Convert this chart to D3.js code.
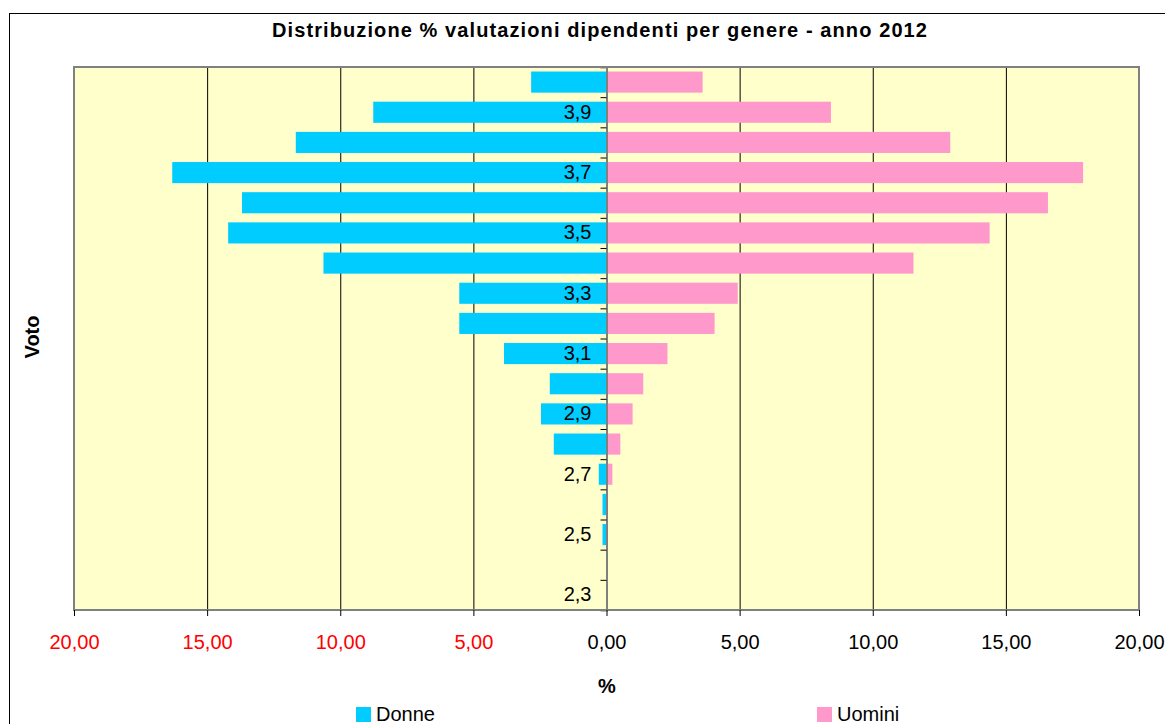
<!DOCTYPE html>
<html>
<head>
<meta charset="utf-8">
<script src="https://cdn.jsdelivr.net/npm/d3@7"></script>
<style>
  body { margin: 0; background: #fff; }
  svg { display: block; font-family: "Liberation Sans", Arial, sans-serif; }
</style>
</head>
<body>
<div id="chart"></div>
<script>
// categorie (voto), dall'alto verso il basso
var voti = [4.0, 3.9, 3.8, 3.7, 3.6, 3.5, 3.4, 3.3, 3.2, 3.1, 3.0, 2.9, 2.8, 2.7, 2.6, 2.5, 2.4, 2.3];
var votiEtichetta = [3.9, 3.7, 3.5, 3.3, 3.1, 2.9, 2.7, 2.5, 2.3];

// % per genere
var donne  = [2.83, 8.76, 11.67, 16.31, 13.69, 14.21, 10.63, 5.53, 5.53, 3.85, 2.13, 2.46, 1.98, 0.29, 0.15, 0.15, 0, 0];
var uomini = [3.61, 8.43, 12.91, 17.90, 16.58, 14.39, 11.53, 4.93, 4.06, 2.29, 1.38, 0.98, 0.52, 0.22, 0, 0, 0, 0];

var xTicks = [-20, -15, -10, -5, 0, 5, 10, 15, 20];

var svgWidth = 1165;
var svgHeight = 724;
var plot = { left: 74, right: 1139, top: 67, bottom: 610 };

var svg = d3.select("#chart")
  .append("svg")
  .attr("width", svgWidth)
  .attr("height", svgHeight);

var comma = function(v, f) { return d3.format(f)(v).replace(".", ","); };

// cornice esterna
svg.append("rect")
  .attr("x", 9.5).attr("y", 13.5)
  .attr("width", 1170).attr("height", 720)
  .attr("fill", "#fff")
  .attr("stroke", "#000")
  .attr("stroke-width", 1);

var x = d3.scaleLinear().domain([-20, 20]).range([plot.left, plot.right]);
var y = d3.scaleBand()
  .domain(voti)
  .range([plot.top, plot.bottom])
  .paddingInner(0.3)
  .paddingOuter(0.15);

// sfondo area del grafico
svg.append("rect")
  .attr("x", plot.left).attr("y", plot.top)
  .attr("width", plot.right - plot.left)
  .attr("height", plot.bottom - plot.top)
  .attr("fill", "#FFFFCC");

// griglia verticale
svg.append("g")
  .selectAll("line")
  .data(xTicks.filter(d => d !== 0 && Math.abs(d) !== 20))
  .enter()
  .append("line")
  .attr("x1", d => x(d) + 0.5).attr("x2", d => x(d) + 0.5)
  .attr("y1", plot.top).attr("y2", plot.bottom)
  .attr("stroke", "#000")
  .attr("stroke-width", 1);

// barre
var rows = voti.map((v, i) => ({ voto: v, donne: donne[i], uomini: uomini[i] }));

svg.append("g").selectAll("rect")
  .data(rows)
  .enter()
  .append("rect")
  .attr("x", d => x(-d.donne))
  .attr("y", d => y(d.voto))
  .attr("width", d => x(0) - x(-d.donne))
  .attr("height", y.bandwidth())
  .attr("fill", "#00CCFF");

svg.append("g").selectAll("rect")
  .data(rows)
  .enter()
  .append("rect")
  .attr("x", x(0))
  .attr("y", d => y(d.voto))
  .attr("width", d => x(d.uomini) - x(0))
  .attr("height", y.bandwidth())
  .attr("fill", "#FF99CC");

// asse verticale (su 0) con tacche ai confini delle categorie
var yIdx = d3.scaleLinear().domain([0, voti.length]).range([plot.top, plot.bottom]);
var yTickAxis = svg.append("g")
  .attr("transform", `translate(${x(0)},0)`)
  .call(d3.axisLeft(yIdx).ticks(voti.length).tickSize(6).tickFormat(""));
yTickAxis.select(".domain").attr("stroke", "#808080").attr("stroke-width", 2);
yTickAxis.selectAll(".tick line").attr("stroke", "#000");

// etichette voto
var yLabelAxis = svg.append("g")
  .attr("transform", `translate(${x(0)},0)`)
  .call(d3.axisLeft(y).tickValues(votiEtichetta).tickSize(0).tickPadding(15)
    .tickFormat(d => comma(d, ".1f")));
yLabelAxis.select(".domain").remove();
yLabelAxis.selectAll("text")
  .attr("fill", "#000")
  .style("font-size", "20px")
  .style("font-family", "Liberation Sans, Arial, sans-serif");

// bordo area grafico
svg.append("rect")
  .attr("x", plot.left).attr("y", plot.top)
  .attr("width", plot.right - plot.left)
  .attr("height", plot.bottom - plot.top)
  .attr("fill", "none")
  .attr("stroke", "#808080")
  .attr("stroke-width", 2);

// asse orizzontale
var xAxis = svg.append("g")
  .attr("transform", `translate(0,${plot.bottom})`)
  .call(d3.axisBottom(x).tickValues(xTicks).tickSize(6).tickPadding(19)
    .tickFormat(d => comma(Math.abs(d), ".2f")));
xAxis.select(".domain").remove();
xAxis.selectAll(".tick line").attr("stroke", "#000");
xAxis.selectAll("text")
  .attr("fill", d => d < 0 ? "#FF0000" : "#000")
  .style("font-size", "20px")
  .style("font-family", "Liberation Sans, Arial, sans-serif");

// titoli
svg.append("text")
  .attr("x", 600).attr("y", 37)
  .attr("text-anchor", "middle")
  .style("font-size", "20px")
  .style("font-weight", "bold")
  .style("letter-spacing", "1.1px")
  .text("Distribuzione % valutazioni dipendenti per genere - anno 2012");

svg.append("text")
  .attr("x", 607).attr("y", 693)
  .attr("text-anchor", "middle")
  .style("font-size", "20px")
  .style("font-weight", "bold")
  .text("%");

svg.append("text")
  .attr("transform", "translate(39,337) rotate(-90)")
  .attr("text-anchor", "middle")
  .style("font-size", "20px")
  .style("font-weight", "bold")
  .text("Voto");

// legenda
var legend = [
  { name: "Donne", color: "#00CCFF", x: 356 },
  { name: "Uomini", color: "#FF99CC", x: 817 }
];
var lg = svg.append("g").selectAll("g")
  .data(legend)
  .enter()
  .append("g")
  .attr("transform", d => `translate(${d.x},707)`);
lg.append("rect")
  .attr("width", 15).attr("height", 15)
  .attr("fill", d => d.color);
lg.append("text")
  .attr("x", 20).attr("y", 14)
  .style("font-size", "20px")
  .text(d => d.name);
</script>
</body>
</html>
